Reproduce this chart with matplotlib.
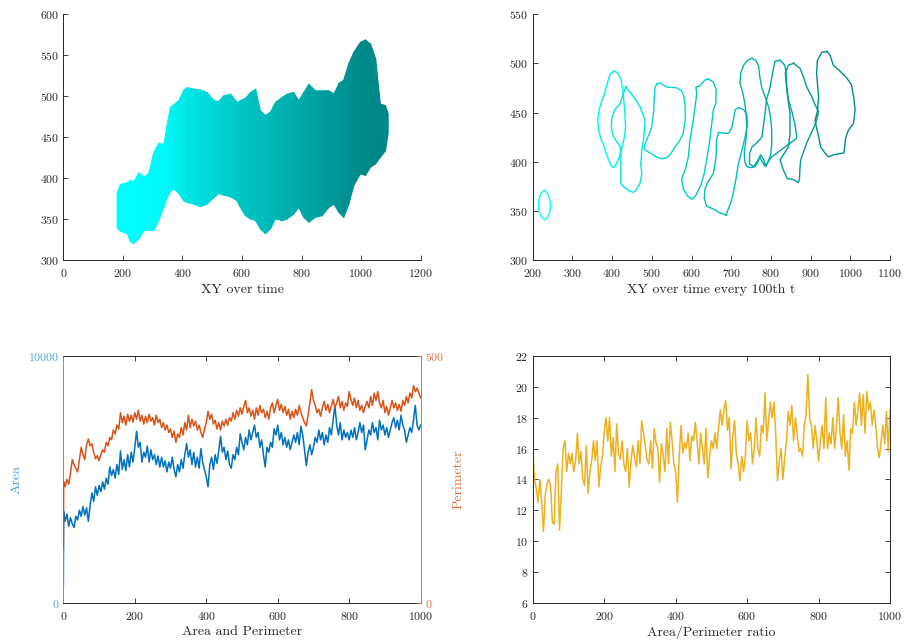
import numpy as np
import matplotlib
matplotlib.use("Agg")
import matplotlib.pyplot as plt

plt.rcParams['font.family'] = 'serif'
plt.rcParams['font.serif'] = ['cmr10', 'DejaVu Serif']
plt.rcParams['mathtext.fontset'] = 'cm'
plt.rcParams['axes.unicode_minus'] = False
plt.rcParams['axes.formatter.use_mathtext'] = True

# ---- top left: envelope of all XY contours over time ----
env_x = [179, 190, 213, 224, 235, 252, 269, 285, 302, 319, 336, 347, 358, 369, 386,
         403, 414, 437, 459, 481, 504, 520, 537, 560, 582, 593, 610, 627, 644, 660,
         677, 694, 711, 733, 750, 772, 789, 806, 823, 845, 868, 890, 907, 924, 940,
         957, 974, 996, 1013, 1030, 1047, 1063, 1080, 1089]
env_hi = [383, 393, 395, 398, 396, 407, 402, 406, 432, 443, 442, 465, 487, 490, 495,
          508, 511, 509, 508, 505, 495, 494, 501, 503, 493, 495, 498, 505, 509, 483,
          477, 481, 493, 499, 503, 505, 495, 505, 515, 507, 507, 507, 503, 516, 520,
          540, 554, 566, 569, 564, 546, 491, 489, 479]
env_lo = [340, 336, 333, 323, 321, 327, 337, 337, 337, 349, 365, 377, 384, 388, 382,
          373, 371, 369, 366, 369, 377, 382, 380, 378, 373, 365, 355, 351, 349, 339,
          333, 339, 351, 349, 351, 357, 365, 353, 347, 353, 355, 365, 369, 359, 353,
          369, 392, 406, 404, 414, 418, 426, 434, 455]
# shade (green/blue level) of the newest contour reaching each x
shade_x = [180, 350, 420, 500, 600, 700, 800, 900, 1000, 1090]
shade_v = [1.0, 0.97, 0.9, 0.84, 0.77, 0.72, 0.66, 0.6, 0.54, 0.53]

# ---- top right: contour every 100th t ----
loop_times = [1, 101, 201, 301, 401, 501, 601, 701, 801, 901]
loop_t1 = [(229, 371), (237, 368), (242, 363), (245, 356), (243, 349), (238, 344), (230, 341),
           (222, 344), (216, 349), (214, 356), (216, 363), (221, 368), (229, 371)]
loop_t101 = [(405, 492), (414, 490), (422, 484), (427, 472), (430, 460), (432, 449), (434, 436),
             (431, 425), (425, 415), (418, 405), (411, 398), (403, 394), (396, 397), (388, 405),
             (380, 415), (372, 423), (366, 432), (364, 442), (367, 452), (373, 461), (381, 469),
             (388, 480), (395, 489), (405, 492)]
loop_t201 = [(435, 476), (454, 466), (470, 456), (483, 442), (480, 426), (475, 412), (472, 398),
             (475, 388), (470, 378), (458, 370), (452, 369), (441, 371), (428, 375), (422, 378),
             (422, 395), (422, 409), (420, 416), (412, 420), (403, 426), (398, 434), (399, 444),
             (407, 453), (420, 459), (427, 468), (435, 476)]
loop_t301 = [(512, 479), (521, 480), (537, 476), (563, 475), (575, 472), (581, 466), (584, 456),
             (584, 442), (579, 429), (571, 422), (558, 415), (546, 407), (536, 404), (525, 403),
             (512, 405), (495, 409), (483, 412), (481, 416), (491, 426), (500, 436), (504, 449),
             (506, 463), (508, 475), (512, 479)]
loop_t401 = [(642, 484), (655, 481), (662, 473), (661, 459), (655, 453), (651, 439), (645, 419),
             (638, 402), (632, 388), (623, 376), (611, 366), (602, 362), (590, 365), (579, 373),
             (575, 383), (584, 392), (592, 405), (596, 422), (603, 439), (609, 456), (613, 469),
             (611, 476), (621, 477), (627, 480), (634, 483), (642, 484)]
loop_t501 = [(687, 346), (701, 361), (710, 378), (718, 398), (729, 415), (737, 429), (741, 439),
             (739, 448), (731, 453), (718, 455), (710, 453), (705, 442), (701, 434), (693, 429),
             (680, 429), (668, 430), (663, 422), (662, 405), (655, 388), (642, 380), (634, 373),
             (632, 363), (638, 355), (655, 352), (672, 348), (687, 346)]
loop_t601 = [(752, 505), (762, 503), (769, 497), (772, 486), (777, 475), (786, 465), (794, 456),
             (799, 445), (802, 432), (802, 418), (799, 407), (792, 399), (784, 396), (778, 400),
             (772, 405), (766, 399), (759, 395), (750, 394), (740, 395), (734, 400), (733, 410),
             (737, 422), (739, 436), (737, 450), (734, 460), (729, 470), (722, 480), (724, 490),
             (731, 498), (741, 503), (752, 505)]
loop_t701 = [(823, 503), (835, 498), (838, 490), (840, 476), (844, 463), (852, 452), (860, 439),
             (865, 426), (863, 423), (852, 420), (835, 415), (819, 410), (802, 405), (793, 400),
             (787, 395), (781, 403), (774, 407), (768, 402), (756, 395), (746, 398), (746, 408),
             (752, 415), (764, 419), (777, 425), (781, 436), (785, 449), (789, 463), (798, 476),
             (804, 490), (810, 502), (823, 503)]
loop_t801 = [(857, 500), (873, 495), (882, 486), (890, 476), (903, 466), (911, 458), (920, 451),
             (915, 442), (907, 434), (899, 427), (890, 419), (882, 410), (875, 402), (873, 393),
             (872, 383), (869, 379), (856, 382), (841, 383), (831, 392), (823, 402), (844, 415),
             (848, 429), (848, 449), (841, 469), (836, 490), (844, 498), (857, 500)]
loop_t901 = [(941, 512), (949, 508), (957, 498), (974, 492), (991, 485), (1003, 478), (1009, 464),
             (1012, 453), (1008, 439), (995, 432), (988, 424), (984, 409), (970, 408), (957, 407),
             (945, 405), (936, 409), (925, 415), (920, 426), (914, 436), (911, 442), (917, 451),
             (920, 466), (915, 490), (917, 503), (928, 511), (941, 512)]
loops = [loop_t1, loop_t101, loop_t201, loop_t301, loop_t401, loop_t501, loop_t601,
         loop_t701, loop_t801, loop_t901]

# ---- time series ----
t = [0, 1] + list(range(5, 1001, 5))
area = [650, 3700,
        3300, 3600, 3100, 3450, 3200, 3050, 3500, 3350, 3750, 3500, 3900, 3550, 3850, 3300, 3950, 4450, 4100, 4700, 4350, 4750,
        4500, 4900, 4600, 5050, 4800, 5500, 5150, 5400, 5050, 5600, 5200, 6150, 5400, 5800, 5350, 6000, 5500, 6100, 5700, 6300,
        6950, 6300, 6500, 5700, 6100, 5900, 6350, 5700, 6200, 5800, 6000, 5600, 5950, 5500, 5900, 5500, 5750, 5300, 5700, 5450,
        5900, 5400, 5100, 5600, 5300, 5800, 5450, 6000, 6450, 5900, 6200, 5600, 6100, 5500, 5900, 5450, 6250, 5700, 5400, 5100,
        4700, 5600, 5900, 5400, 6000, 5650, 6150, 6750, 6100, 6300, 5800, 6150, 5600, 5450, 6000, 5800, 6300, 6000, 6850, 6500,
        6200, 6700, 6400, 7000, 6600, 6900, 7200, 6700, 6900, 6300, 6600, 6000, 5500, 6300, 6100, 6500, 6300, 7050, 6800, 7200,
        6600, 6900, 6400, 6700, 6300, 6600, 6200, 6500, 6800, 6500, 6900, 6400, 7150, 6800, 6200, 5550, 6100, 6400, 6000, 6300,
        6700, 6500, 7000, 6600, 6900, 6400, 6800, 6500, 7100, 6800, 7400, 8000, 7200, 6800, 7300, 6600, 7000, 6700, 6900, 6600,
        7000, 6700, 7100, 6600, 6900, 7300, 6900, 7200, 6200, 6600, 7000, 6800, 7300, 6900, 7100, 6600, 7400, 7000, 7200, 6800,
        7100, 6700, 7000, 7300, 7500, 7100, 7400, 7000, 7600, 7200, 7000, 6500, 6800, 7100, 6900, 7400, 8000, 7200, 7000, 7200]
perimeter = [110, 245,
             235, 250, 240, 262, 290, 280, 272, 265, 290, 315, 300, 290, 320, 332, 318, 322, 305, 292, 298, 288,
             300, 310, 305, 325, 318, 335, 330, 350, 342, 360, 352, 385, 365, 378, 360, 382, 368, 380, 366, 385,
             372, 390, 368, 380, 362, 378, 365, 382, 368, 375, 360, 380, 365, 372, 355, 365, 350, 360, 345, 352,
             335, 348, 325, 342, 335, 355, 340, 365, 350, 380, 355, 372, 358, 368, 350, 360, 345, 335, 352, 365,
             388, 372, 382, 362, 370, 352, 365, 350, 368, 358, 372, 360, 375, 368, 385, 372, 390, 378, 395, 382,
             398, 410, 385, 395, 378, 390, 372, 395, 380, 400, 385, 392, 375, 388, 372, 395, 405, 385, 400, 412,
             390, 402, 385, 398, 380, 392, 372, 388, 375, 392, 380, 400, 385, 375, 365, 358, 380, 405, 432, 410,
             400, 385, 392, 378, 395, 408, 390, 402, 385, 398, 412, 395, 405, 418, 395, 408, 390, 405, 398, 428,
             412, 400, 415, 395, 410, 390, 400, 385, 398, 408, 395, 418, 400, 425, 410, 428, 405, 395, 410, 385,
             398, 380, 395, 410, 395, 405, 390, 402, 388, 410, 400, 418, 405, 425, 415, 440, 428, 435, 425, 415]
ratio = [6.1, 15.5,
         14.0, 13.4, 12.5, 14.0, 12.5, 10.6, 13.0, 13.7, 14.0, 13.6, 11.2, 11.1, 14.5, 15.0, 10.7, 13.2, 16.0, 16.5, 14.5, 15.7,
         15.0, 15.7, 14.5, 15.2, 17.0, 15.0, 15.8, 14.0, 13.6, 16.2, 13.1, 14.5, 15.2, 16.5, 15.2, 16.5, 13.5, 14.8, 15.5, 17.0,
         18.0, 16.5, 18.0, 15.5, 16.7, 14.5, 17.6, 15.7, 15.3, 16.5, 15.0, 14.5, 16.0, 13.5, 15.2, 16.2, 15.4, 14.8, 16.5, 15.0,
         17.8, 17.0, 16.2, 15.3, 15.0, 16.5, 14.7, 17.3, 16.4, 16.0, 13.8, 16.3, 15.6, 14.5, 17.3, 15.0, 17.7, 16.5, 15.0, 14.5,
         12.5, 15.5, 17.5, 15.7, 16.4, 16.0, 17.0, 15.2, 16.8, 16.5, 17.7, 16.5, 15.0, 17.0, 16.0, 15.0, 17.3, 14.1, 15.5, 16.5,
         16.0, 17.0, 16.0, 17.3, 18.5, 17.5, 18.5, 19.1, 17.2, 18.0, 14.7, 16.8, 17.8, 15.6, 15.0, 13.9, 15.5, 14.5, 15.5, 17.8,
         16.5, 17.0, 15.0, 16.0, 18.0, 16.0, 15.5, 17.5, 17.0, 19.6, 16.5, 17.8, 19.0, 18.0, 19.0, 17.0, 13.9, 15.2, 16.0, 14.0,
         15.3, 16.5, 18.4, 17.5, 18.8, 16.5, 18.0, 17.0, 15.8, 16.0, 15.5, 17.5, 18.2, 20.8, 18.0, 17.5, 16.0, 17.5, 16.5, 15.2,
         16.5, 17.5, 16.0, 19.3, 16.0, 17.0, 16.3, 18.0, 16.0, 17.5, 19.3, 17.0, 16.0, 18.2, 15.5, 16.5, 14.6, 17.3, 17.0, 19.0,
         17.5, 18.5, 19.6, 17.5, 19.5, 17.0, 19.7, 18.5, 19.0, 17.5, 18.5, 17.5, 16.0, 15.4, 16.5, 17.5, 16.3, 18.4, 15.8, 18.5]

BLUE = '#0072BD'
ORANGE = '#D95319'
YELLOW = '#EDB120'
BLUE_AX = '#4D9FD8'
ORANGE_AX = '#E0713F'
AXC = '#262626'
TICK_FS = 8.5
LABEL_FS = 10

fig = plt.figure(figsize=(9.06, 6.43), dpi=100)


def style(ax, box):
    for s in ['left', 'bottom', 'top', 'right']:
        ax.spines[s].set_color(AXC)
        ax.spines[s].set_linewidth(0.7)
    if not box:
        ax.spines['top'].set_visible(False)
        ax.spines['right'].set_visible(False)
    ax.tick_params(direction='in', length=3.5, width=0.6, colors=AXC, labelsize=TICK_FS,
                   top=box, right=box, pad=3)
    ax.tick_params(axis='x', pad=5)


# top left
ax1 = fig.add_axes([0.0699, 0.5952, 0.3944, 0.383])
for i in range(len(env_x) - 1):
    c = np.interp((env_x[i] + env_x[i + 1]) / 2, shade_x, shade_v)
    col = (0, c, c)
    ax1.fill_between(env_x[i:i + 2], env_lo[i:i + 2], env_hi[i:i + 2],
                     color=col, lw=0.8, edgecolor=col)
ax1.set_xlim(0, 1200)
ax1.set_ylim(300, 600)
ax1.set_xticks(range(0, 1201, 200))
ax1.set_yticks(range(300, 601, 50))
ax1.set_xlabel('XY over time', fontsize=LABEL_FS, color=AXC, labelpad=3)
style(ax1, False)

# top right
ax2 = fig.add_axes([0.588, 0.5952, 0.3944, 0.383])
for tt, lp in zip(loop_times, loops):
    c = 1 - tt / 2000
    xs = [p[0] for p in lp]
    ys = [p[1] for p in lp]
    ax2.plot(xs, ys, color=(0, c, c), lw=1.0)
ax2.set_xlim(200, 1100)
ax2.set_ylim(300, 550)
ax2.set_xticks(range(200, 1101, 100))
ax2.set_yticks(range(300, 551, 50))
ax2.set_xlabel('XY over time every 100th t', fontsize=LABEL_FS, color=AXC, labelpad=3)
style(ax2, False)

# bottom left
ax3 = fig.add_axes([0.0699, 0.0627, 0.3944, 0.3836])
ax3.plot(t, area, color=BLUE, lw=1.1)
ax3.set_xlim(0, 1000)
ax3.set_ylim(0, 10000)
ax3.set_xticks(range(0, 1001, 200))
ax3.set_yticks([0, 10000])
style(ax3, True)
ax3.tick_params(axis='y', colors=BLUE_AX, right=False)
ax3.spines['left'].set_color(BLUE_AX)
ax3.spines['right'].set_visible(False)
ax3.set_ylabel('Area', fontsize=LABEL_FS, color=BLUE_AX, labelpad=4)
ax3.set_xlabel('Area and Perimeter', fontsize=LABEL_FS, color=AXC, labelpad=3)
ax3b = ax3.twinx()
ax3b.plot(t, perimeter, color=ORANGE, lw=1.1)
ax3b.set_ylim(0, 500)
ax3b.set_yticks([0, 500])
ax3b.tick_params(direction='in', length=3.5, width=0.6, colors=ORANGE_AX, labelsize=TICK_FS, pad=3)
for s in ['left', 'top', 'bottom']:
    ax3b.spines[s].set_visible(False)
ax3b.spines['right'].set_color(ORANGE_AX)
ax3b.spines['right'].set_linewidth(0.7)
ax3b.set_ylabel('Perimeter', fontsize=LABEL_FS, color=ORANGE_AX, labelpad=6)

# bottom right
ax4 = fig.add_axes([0.588, 0.0627, 0.3944, 0.3836])
ax4.plot(t, ratio, color=YELLOW, lw=1.1)
ax4.set_xlim(0, 1000)
ax4.set_ylim(6, 22)
ax4.set_xticks(range(0, 1001, 200))
ax4.set_yticks(range(6, 23, 2))
ax4.set_xlabel('Area/Perimeter ratio', fontsize=LABEL_FS, color=AXC, labelpad=3)
style(ax4, True)

fig.savefig('out.png', dpi=100)
